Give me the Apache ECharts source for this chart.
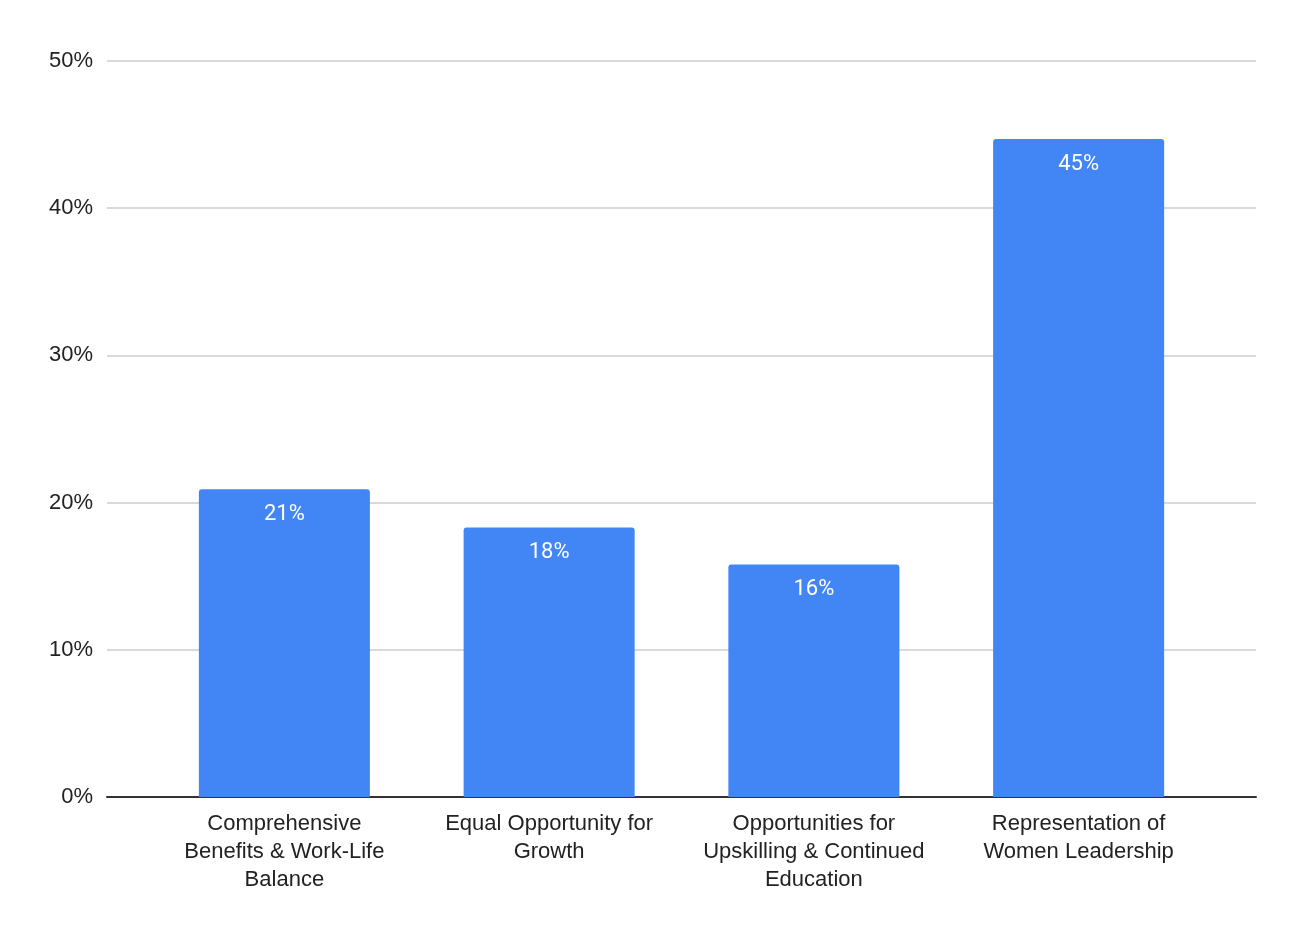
<!DOCTYPE html>
<html><head><meta charset="utf-8">
<script src="https://cdn.jsdelivr.net/npm/echarts@6/dist/echarts.min.js"></script>
<style>html,body{margin:0;padding:0;background:#fff}#c{width:1304px;height:940px}</style>
</head><body><div id="c"></div>
<script>
const categories = ["Comprehensive\nBenefits & Work-Life\nBalance","Equal Opportunity for\nGrowth","Opportunities for\nUpskilling & Continued\nEducation","Representation of\nWomen Leadership"];
const values = [20.9, 18.3, 15.8, 44.7];
const yTicks = [0, 10, 20, 30, 40, 50];
const AX = "Liberation Sans";
function draw(){
const chart = echarts.init(document.getElementById('c'));
const yMin = yTicks[0], yMax = yTicks[yTicks.length-1];
chart.setOption({
  animation:false,
  grid:[{left:107,right:48,top:61,bottom:143},{left:152,right:93,top:61,bottom:143}],
  xAxis:[
    {gridIndex:0,type:'category',data:categories.map(()=>''),
      axisLine:{lineStyle:{color:'#333',width:2}},axisTick:{show:false},axisLabel:{show:false}},
    {gridIndex:1,type:'category',data:categories,
      axisLine:{show:false},axisTick:{show:false},
      axisLabel:{fontFamily:AX,fontSize:22,color:'#222',lineHeight:28,margin:13,interval:0}}
  ],
  yAxis:[
    {gridIndex:0,type:'value',min:yMin,max:yMax,interval:10,
      axisLine:{show:false},axisTick:{show:false},
      splitLine:{lineStyle:{color:'#ccc',width:1.5}},
      axisLabel:{formatter:'{value}%',fontFamily:AX,fontSize:22,color:'#222',margin:14}},
    {gridIndex:1,type:'value',min:yMin,max:yMax,interval:10,show:false,splitLine:{show:false}}
  ],
  series:[{type:'bar',xAxisIndex:1,yAxisIndex:1,data:values,barWidth:'64.6%',
    itemStyle:{color:'#4285F4',borderRadius:[3,3,0,0]},
    label:{show:true,position:'insideTop',distance:14,color:'#fff',fontFamily:"Roboto",fontSize:22,
      formatter:p=>Math.round(p.value)+'%'}}]
});
}
if (document.fonts && document.fonts.load) {
  Promise.all([document.fonts.load("22px 'Liberation Sans'"), document.fonts.load("22px Roboto")]).then(draw, draw);
} else draw();
</script></body></html>
